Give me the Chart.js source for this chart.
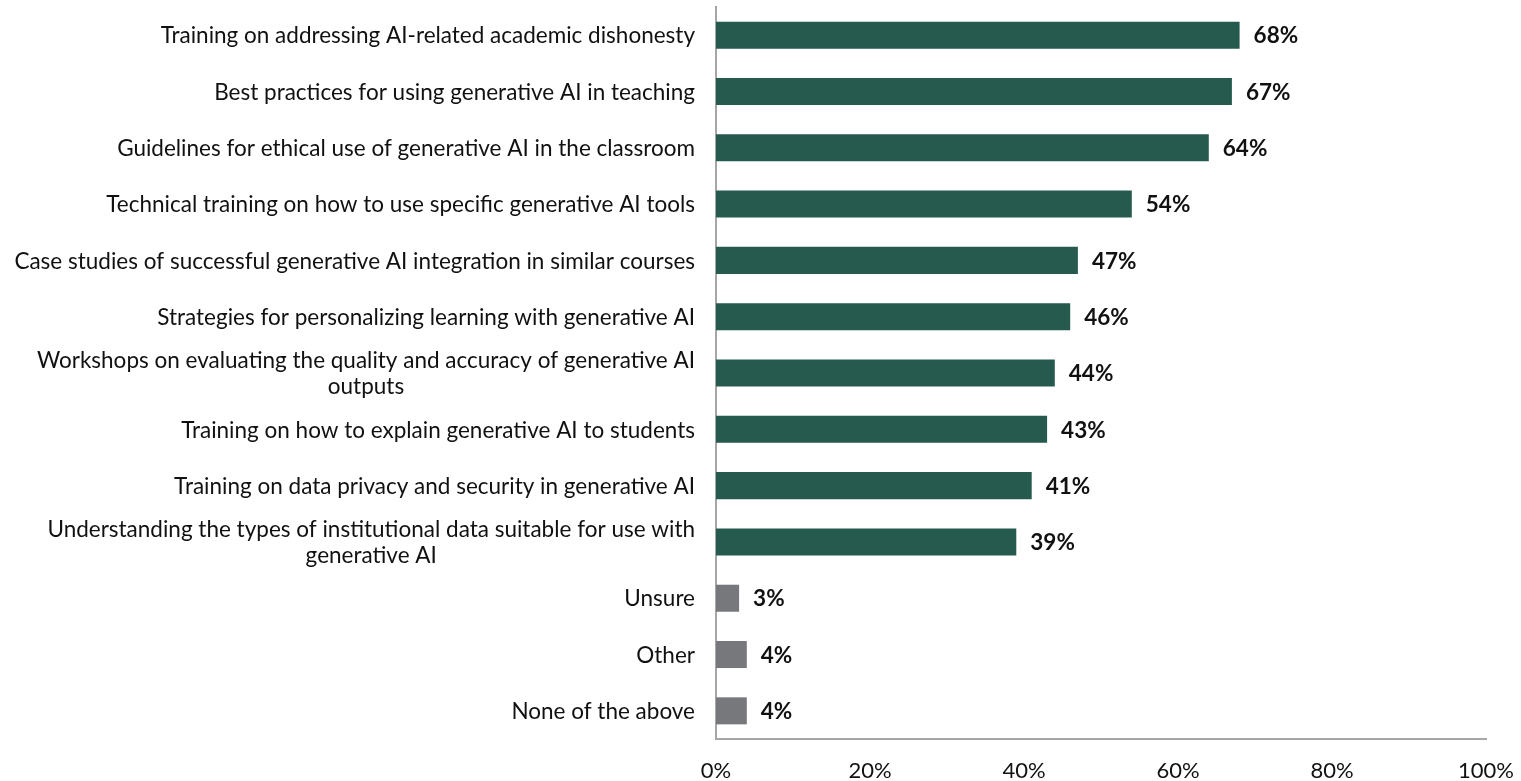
<!DOCTYPE html>
<html>
<head>
<meta charset="utf-8">
<script src="https://cdn.jsdelivr.net/npm/chart.js"></script>
<style>
  html, body { margin: 0; padding: 0; background: #fff; }
  #wrap { width: 1521px; height: 781px; position: relative; }
</style>
</head>
<body>
<div id="wrap"><canvas id="supportChart"></canvas></div>
<script>
const categories = [
  ['Training on addressing AI-related academic dishonesty'],
  ['Best practices for using generative AI in teaching'],
  ['Guidelines for ethical use of generative AI in the classroom'],
  ['Technical training on how to use specific generative AI tools'],
  ['Case studies of successful generative AI integration in similar courses'],
  ['Strategies for personalizing learning with generative AI'],
  ['Workshops on evaluating the quality and accuracy of generative AI', 'outputs'],
  ['Training on how to explain generative AI to students'],
  ['Training on data privacy and security in generative AI'],
  ['Understanding the types of institutional data suitable for use with', 'generative AI'],
  ['Unsure'],
  ['Other'],
  ['None of the above']
];
const percents = [68, 67, 64, 54, 47, 46, 44, 43, 41, 39, 3, 4, 4];
const xTicks = [0, 20, 40, 60, 80, 100];

const GREEN = '#265a4e';
const GREY = '#77787b';
const FONT = 'Lato, "Open Sans", sans-serif';

// last three answers are the non-substantive ones, shown in grey
const barColors = percents.map((v, i) => i >= 10 ? GREY : GREEN);

// category labels: right aligned, wrapped lines centred on the widest line
const categoryLabels = {
  id: 'categoryLabels',
  afterDraw(chart) {
    const { ctx, scales: { y } } = chart;
    ctx.save();
    ctx.font = '22.5px ' + FONT;
    ctx.fillStyle = '#111';
    ctx.textBaseline = 'middle';
    ctx.textAlign = 'center';
    const right = chart.chartArea.left - 21;
    const lineH = 26;
    categories.forEach((lines, i) => {
      const cy = y.getPixelForTick(i) + 1;
      const maxW = Math.max(...lines.map(l => ctx.measureText(l).width));
      const cx = right - maxW / 2;
      const top = cy - (lines.length - 1) * lineH / 2;
      lines.forEach((l, k) => ctx.fillText(l, cx, top + k * lineH));
    });
    ctx.restore();
  }
};

// percentage figures at the end of each bar
const valueLabels = {
  id: 'valueLabels',
  afterDatasetsDraw(chart) {
    const { ctx } = chart;
    const meta = chart.getDatasetMeta(0);
    ctx.save();
    ctx.font = 'bold 22.5px ' + FONT;
    ctx.fillStyle = '#111';
    ctx.textBaseline = 'middle';
    ctx.textAlign = 'left';
    meta.data.forEach((bar, i) => {
      ctx.fillText(percents[i] + '%', bar.x + 14, bar.y + 1);
    });
    ctx.restore();
  }
};

new Chart(document.getElementById('supportChart'), {
  type: 'bar',
  data: {
    labels: categories,
    datasets: [{
      data: percents,
      backgroundColor: barColors,
      barPercentage: 0.96,
      categoryPercentage: 0.5
    }]
  },
  options: {
    indexAxis: 'y',
    responsive: true,
    maintainAspectRatio: false,
    animation: false,
    layout: { padding: { top: 7, right: 0, left: 0, bottom: 0 } },
    plugins: { legend: { display: false }, tooltip: { enabled: false } },
    scales: {
      x: {
        min: 0,
        max: 100,
        afterBuildTicks: s => { s.ticks = xTicks.map(v => ({ value: v })); },
        afterFit: s => { s.height = 42; s.paddingLeft = 0; s.paddingRight = 35; },
        grid: { display: false, drawTicks: false },
        border: { display: true, color: '#a6a6a6', width: 2 },
        ticks: {
          padding: 19,
          color: '#111',
          font: { family: FONT, size: 22 },
          callback: v => v + '%'
        }
      },
      y: {
        afterFit: s => { s.width = 716; },
        grid: { display: false, drawTicks: false },
        border: { display: true, color: '#a6a6a6', width: 2 },
        ticks: { display: false }
      }
    }
  },
  plugins: [categoryLabels, valueLabels]
});
</script>
</body>
</html>
